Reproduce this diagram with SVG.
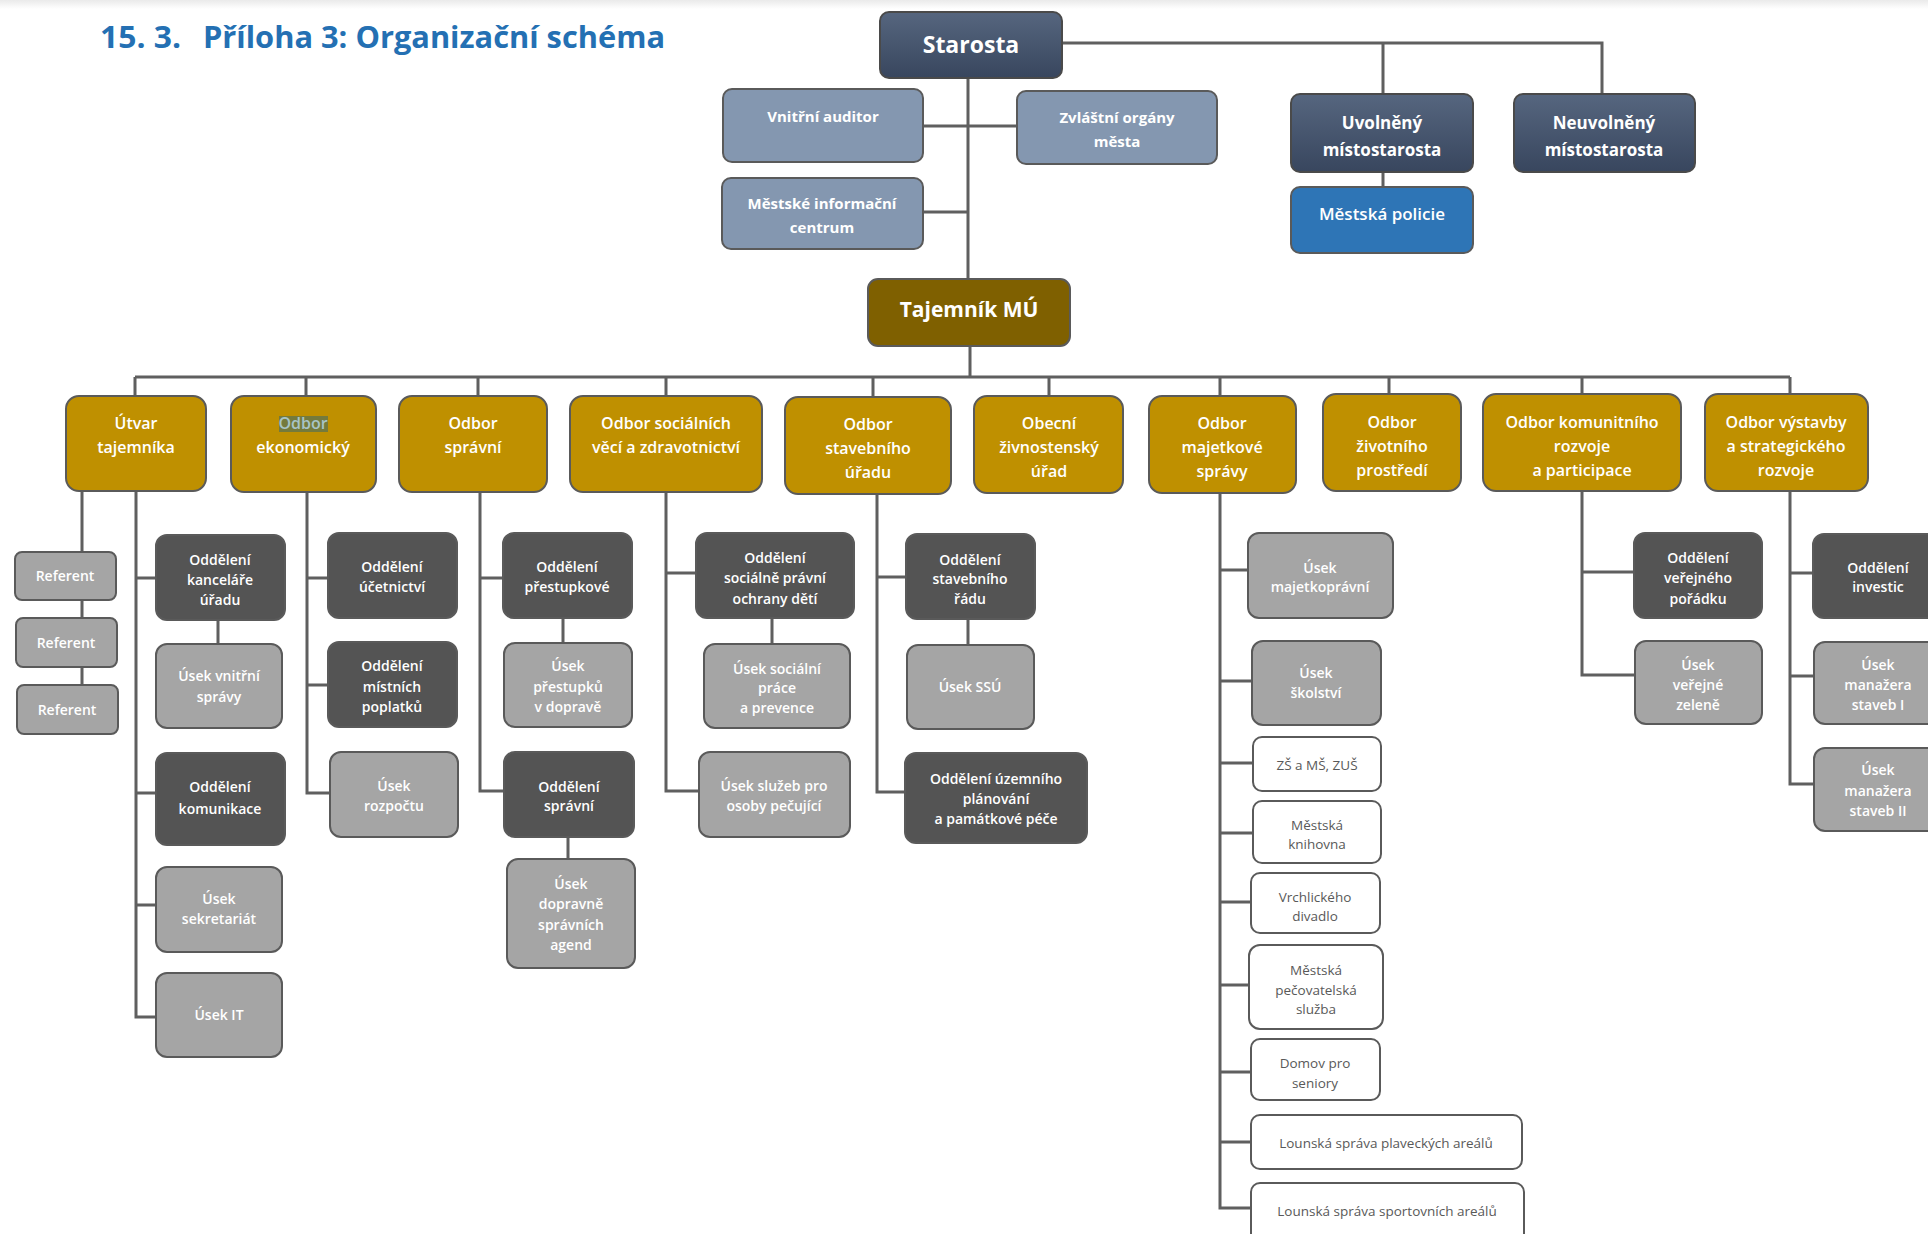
<svg xmlns="http://www.w3.org/2000/svg" width="1928" height="1234" viewBox="0 0 1928 1234">
<defs>
<linearGradient id="slate" x1="0" y1="0" x2="0" y2="1"><stop offset="0" stop-color="#56667f"/><stop offset="1" stop-color="#38465e"/></linearGradient>
<linearGradient id="band" x1="0" y1="0" x2="0" y2="1"><stop offset="0" stop-color="#eaeaea"/><stop offset="1" stop-color="#ffffff"/></linearGradient>
</defs>
<style>
text{font-family:"Open Sans","Noto Sans","DejaVu Sans",sans-serif;text-anchor:middle;}
rect{stroke:#5a5a5a;stroke-width:2;}
.slate rect{fill:url(#slate);stroke:#4a4a4a;}
.slate text{fill:#fff;font-weight:700;}
.blue rect{fill:#8497B0;}
.blue text{fill:#fff;font-weight:700;font-size:15px;}
.police rect{fill:#2E75B6;}
.police text{fill:#fff;font-weight:600;font-size:17px;}
.taj rect{fill:#7F6000;}
.taj text{fill:#fff;font-weight:700;font-size:21px;}
.dept rect{fill:#BF9000;}
.dept text{fill:#fff;font-weight:600;font-size:16px;}
.dark rect{fill:#545454;}
.dark text{fill:#fff;font-weight:600;font-size:14px;}
.light rect{fill:#A5A5A5;}
.light text{fill:#fff;font-weight:600;font-size:14px;}
.white rect{fill:#fff;}
.white text{fill:#595959;font-size:13.5px;}
.title{text-anchor:start;font-size:30px;font-weight:700;fill:#2470B3;}
.conn path{fill:none;stroke:#5f5f5f;stroke-width:3;}
</style>
<rect x="0" y="0" width="1928" height="9" style="fill:url(#band);stroke:none"/>
<text class="title" x="100" y="48" textLength="81" lengthAdjust="spacingAndGlyphs">15. 3.</text>
<text class="title" x="203" y="48" textLength="462" lengthAdjust="spacingAndGlyphs">Příloha 3: Organizační schéma</text>

<g id="connectors" class="conn">
<path d="M1062 43H1602V94M1383 43V94M1383 172V187"/>
<path d="M968 78V279M923 126H1017M923 212H968M970 346V377"/>
<path d="M135 377H1790M135 377V396M306 377V396M478 377V396M666 377V396M873 377V397M1049 377V396M1220 377V396M1389 377V394M1582 377V394M1790 377V394"/>
<path d="M82 491V552M82 600V618M82 667V685"/>
<path d="M136 491V1017H156M136 578H156M136 793H156M136 905H156M218 620V644"/>
<path d="M307 492V793H330M307 578H328M307 685H328"/>
<path d="M480 492V791H504M480 578H503M563 618V643M568 837V859"/>
<path d="M666 492V791H699M666 573H696M772 618V644"/>
<path d="M877 494V792H905M877 577H906M968 619V645"/>
<path d="M1220 493V1208H1251M1220 570H1248M1220 681H1252M1220 763H1253M1220 833H1253M1220 902H1251M1220 985H1249M1220 1072H1251M1220 1142H1251"/>
<path d="M1582 491V675H1635M1582 572H1634"/>
<path d="M1790 491V784H1814M1790 573H1813M1790 676H1814"/>
</g>

<g id="starosta" class="slate"><rect x="880" y="12" width="182" height="66" rx="9"/><text x="971" y="53" font-size="23">Starosta</text></g>
<g id="vnitrni-auditor" class="blue"><rect x="723" y="89" width="200" height="73" rx="9"/><text x="823" y="122">Vnitřní auditor</text></g>
<g id="zvlastni-organy" class="blue"><rect x="1017" y="91" width="200" height="73" rx="9"/><text x="1117" y="123">Zvláštní orgány</text><text x="1117" y="147">města</text></g>
<g id="mic" class="blue"><rect x="722" y="178" width="201" height="71" rx="9"/><text x="822" y="209">Městské informační</text><text x="822" y="233">centrum</text></g>
<g id="uvolneny" class="slate"><rect x="1291" y="94" width="182" height="78" rx="9"/><text x="1382" y="129" font-size="17">Uvolněný</text><text x="1382" y="156" font-size="17">místostarosta</text></g>
<g id="neuvolneny" class="slate"><rect x="1514" y="94" width="181" height="78" rx="9"/><text x="1604" y="129" font-size="17">Neuvolněný</text><text x="1604" y="156" font-size="17">místostarosta</text></g>
<g id="mestska-policie" class="police"><rect x="1291" y="187" width="182" height="66" rx="9"/><text x="1382" y="220">Městská policie</text></g>
<g id="tajemnik" class="taj"><rect x="868" y="279" width="202" height="67" rx="10"/><text x="969" y="317">Tajemník MÚ</text></g>

<g id="utvar-tajemnika" class="dept"><rect x="66" y="396" width="140" height="95" rx="13"/><text x="136" y="429">Útvar</text><text x="136" y="453">tajemníka</text></g>
<g id="odbor-ekonomicky" class="dept"><rect x="231" y="396" width="145" height="96" rx="13"/><rect x="279" y="416" width="49" height="16" style="fill:#747a3c;stroke:none"/><text x="303" y="429" style="fill:#a8c4c6">Odbor</text><text x="303" y="453">ekonomický</text></g>
<g id="odbor-spravni" class="dept"><rect x="399" y="396" width="148" height="96" rx="13"/><text x="473" y="429">Odbor</text><text x="473" y="453">správní</text></g>
<g id="odbor-socialni" class="dept"><rect x="570" y="396" width="192" height="96" rx="13"/><text x="666" y="429">Odbor sociálních</text><text x="666" y="453">věcí a zdravotnictví</text></g>
<g id="odbor-stavebni" class="dept"><rect x="785" y="397" width="166" height="97" rx="13"/><text x="868" y="430">Odbor</text><text x="868" y="454">stavebního</text><text x="868" y="478">úřadu</text></g>
<g id="zivnostensky" class="dept"><rect x="974" y="396" width="149" height="97" rx="13"/><text x="1049" y="429">Obecní</text><text x="1049" y="453">živnostenský</text><text x="1049" y="477">úřad</text></g>
<g id="odbor-majetkove" class="dept"><rect x="1149" y="396" width="147" height="97" rx="13"/><text x="1222" y="429">Odbor</text><text x="1222" y="453">majetkové</text><text x="1222" y="477">správy</text></g>
<g id="odbor-zivotniho" class="dept"><rect x="1323" y="394" width="138" height="97" rx="13"/><text x="1392" y="428">Odbor</text><text x="1392" y="452">životního</text><text x="1392" y="476">prostředí</text></g>
<g id="odbor-komunitniho" class="dept"><rect x="1483" y="394" width="198" height="97" rx="13"/><text x="1582" y="428">Odbor komunitního</text><text x="1582" y="452">rozvoje</text><text x="1582" y="476">a participace</text></g>
<g id="odbor-vystavby" class="dept"><rect x="1705" y="394" width="163" height="97" rx="13"/><text x="1786" y="428">Odbor výstavby</text><text x="1786" y="452">a strategického</text><text x="1786" y="476">rozvoje</text></g>

<g id="referent-1" class="light"><rect x="15" y="552" width="101" height="48" rx="7"/><text x="65" y="581">Referent</text></g>
<g id="referent-2" class="light"><rect x="16" y="618" width="101" height="49" rx="7"/><text x="66" y="648">Referent</text></g>
<g id="referent-3" class="light"><rect x="17" y="685" width="101" height="49" rx="7"/><text x="67" y="715">Referent</text></g>
<g id="odd-kancelare" class="dark"><rect x="156" y="535" width="129" height="85" rx="11"/><text x="220" y="565">Oddělení</text><text x="220" y="585">kanceláře</text><text x="220" y="605">úřadu</text></g>
<g id="usek-vnitrni-spravy" class="light"><rect x="156" y="644" width="126" height="84" rx="11"/><text x="219" y="681">Úsek vnitřní</text><text x="219" y="702">správy</text></g>
<g id="odd-komunikace" class="dark"><rect x="156" y="753" width="129" height="92" rx="11"/><text x="220" y="792">Oddělení</text><text x="220" y="814">komunikace</text></g>
<g id="usek-sekretariat" class="light"><rect x="156" y="867" width="126" height="85" rx="11"/><text x="219" y="904">Úsek</text><text x="219" y="924">sekretariát</text></g>
<g id="usek-it" class="light"><rect x="156" y="973" width="126" height="84" rx="11"/><text x="219" y="1020">Úsek IT</text></g>

<g id="odd-ucetnictvi" class="dark"><rect x="328" y="533" width="129" height="85" rx="11"/><text x="392" y="572">Oddělení</text><text x="392" y="592">účetnictví</text></g>
<g id="odd-poplatku" class="dark"><rect x="328" y="642" width="129" height="85" rx="11"/><text x="392" y="671">Oddělení</text><text x="392" y="692">místních</text><text x="392" y="712">poplatků</text></g>
<g id="usek-rozpoctu" class="light"><rect x="330" y="752" width="128" height="85" rx="11"/><text x="394" y="791">Úsek</text><text x="394" y="811">rozpočtu</text></g>

<g id="odd-prestupkove" class="dark"><rect x="503" y="533" width="129" height="85" rx="11"/><text x="567" y="572">Oddělení</text><text x="567" y="592">přestupkové</text></g>
<g id="usek-prestupku" class="light"><rect x="504" y="643" width="128" height="84" rx="11"/><text x="568" y="671">Úsek</text><text x="568" y="692">přestupků</text><text x="568" y="712">v dopravě</text></g>
<g id="odd-spravni" class="dark"><rect x="504" y="752" width="130" height="85" rx="11"/><text x="569" y="792">Oddělení</text><text x="569" y="811">správní</text></g>
<g id="usek-agend" class="light"><rect x="507" y="859" width="128" height="109" rx="11"/><text x="571" y="889">Úsek</text><text x="571" y="909">dopravně</text><text x="571" y="930">správních</text><text x="571" y="950">agend</text></g>

<g id="odd-ospod" class="dark"><rect x="696" y="533" width="158" height="85" rx="11"/><text x="775" y="563">Oddělení</text><text x="775" y="583">sociálně právní</text><text x="775" y="604">ochrany dětí</text></g>
<g id="usek-socialni-prace" class="light"><rect x="704" y="644" width="146" height="84" rx="11"/><text x="777" y="674">Úsek sociální</text><text x="777" y="693">práce</text><text x="777" y="713">a prevence</text></g>
<g id="usek-pecujici" class="light"><rect x="699" y="752" width="151" height="85" rx="11"/><text x="774" y="791">Úsek služeb pro</text><text x="774" y="811">osoby pečující</text></g>

<g id="odd-stavebniho-radu" class="dark"><rect x="906" y="534" width="129" height="85" rx="11"/><text x="970" y="565">Oddělení</text><text x="970" y="584">stavebního</text><text x="970" y="604">řádu</text></g>
<g id="usek-ssu" class="light"><rect x="907" y="645" width="127" height="84" rx="11"/><text x="970" y="692">Úsek SSÚ</text></g>
<g id="odd-uzemniho" class="dark"><rect x="905" y="753" width="182" height="90" rx="11"/><text x="996" y="784">Oddělení územního</text><text x="996" y="804">plánování</text><text x="996" y="824">a památkové péče</text></g>

<g id="usek-majetkopravni" class="light"><rect x="1248" y="533" width="145" height="85" rx="11"/><text x="1320" y="573">Úsek</text><text x="1320" y="592">majetkoprávní</text></g>
<g id="usek-skolstvi" class="light"><rect x="1252" y="641" width="129" height="84" rx="11"/><text x="1316" y="678">Úsek</text><text x="1316" y="698">školství</text></g>
<g id="zs-ms-zus" class="white"><rect x="1253" y="737" width="128" height="54" rx="9"/><text x="1317" y="770">ZŠ a MŠ, ZUŠ</text></g>
<g id="knihovna" class="white"><rect x="1253" y="801" width="128" height="62" rx="9"/><text x="1317" y="830">Městská</text><text x="1317" y="849">knihovna</text></g>
<g id="divadlo" class="white"><rect x="1251" y="873" width="129" height="60" rx="9"/><text x="1315" y="902">Vrchlického</text><text x="1315" y="921">divadlo</text></g>
<g id="pecovatelska" class="white"><rect x="1249" y="945" width="134" height="84" rx="11"/><text x="1316" y="975">Městská</text><text x="1316" y="995">pečovatelská</text><text x="1316" y="1014">služba</text></g>
<g id="domov-seniory" class="white"><rect x="1251" y="1039" width="129" height="61" rx="9"/><text x="1315" y="1068">Domov pro</text><text x="1315" y="1088">seniory</text></g>
<g id="plavecke-arealy" class="white"><rect x="1251" y="1115" width="271" height="54" rx="9"/><text x="1386" y="1148">Lounská správa plaveckých areálů</text></g>
<g id="sportovni-arealy" class="white"><rect x="1251" y="1183" width="273" height="62" rx="9"/><text x="1387" y="1216">Lounská správa sportovních areálů</text></g>

<g id="odd-verejneho-poradku" class="dark"><rect x="1634" y="533" width="128" height="85" rx="11"/><text x="1698" y="563">Oddělení</text><text x="1698" y="583">veřejného</text><text x="1698" y="604">pořádku</text></g>
<g id="usek-verejne-zelene" class="light"><rect x="1635" y="641" width="127" height="83" rx="11"/><text x="1698" y="670">Úsek</text><text x="1698" y="690">veřejné</text><text x="1698" y="710">zeleně</text></g>

<g id="odd-investic" class="dark"><rect x="1813" y="534" width="130" height="84" rx="11"/><text x="1878" y="573">Oddělení</text><text x="1878" y="592">investic</text></g>
<g id="usek-manazera-1" class="light"><rect x="1814" y="642" width="130" height="82" rx="11"/><text x="1878" y="670">Úsek</text><text x="1878" y="690">manažera</text><text x="1878" y="710">staveb I</text></g>
<g id="usek-manazera-2" class="light"><rect x="1814" y="748" width="130" height="83" rx="11"/><text x="1878" y="775">Úsek</text><text x="1878" y="796">manažera</text><text x="1878" y="816">staveb II</text></g>
</svg>
